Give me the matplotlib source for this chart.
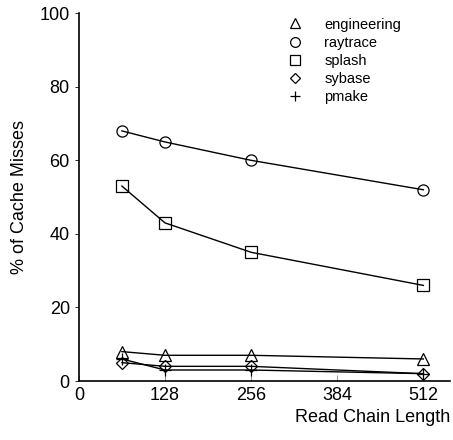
import matplotlib
matplotlib.use('Agg')
import matplotlib.pyplot as plt

plt.rcParams['font.family'] = ['Liberation Sans', 'DejaVu Sans']

chain_len = [64, 128, 256, 512]
engineering = [8, 7, 7, 6]
raytrace = [68, 65, 60, 52]
splash = [53, 43, 35, 26]
sybase = [5, 4, 4, 2]
pmake = [6, 3, 3, 2]

series = [('engineering', engineering, '^'),
          ('raytrace', raytrace, 'o'),
          ('splash', splash, 's'),
          ('sybase', sybase, 'D'),
          ('pmake', pmake, '+')]

fig = plt.figure(figsize=(4.53, 4.40), dpi=100)
ax = fig.add_axes([0.174, 0.134, 0.82, 0.836])

for name, vals, m in series:
    ms = 6 if m == 'D' else 8
    ax.plot(chain_len, vals, color='black', lw=1, marker=m, ms=ms,
            mfc='none', mec='black', mew=0.9, label=name)

# legend shows markers only
handles = [plt.Line2D([], [], ls='none', marker=m, ms=(5.5 if m == 'D' else 7),
                      mfc='none', mec='black', mew=0.9, color='black')
           for _, _, m in series]
ax.legend(handles, [s[0] for s in series], loc='upper left',
          bbox_to_anchor=(0.52, 1.012), frameon=False, fontsize=10.5,
          handletextpad=1.0, labelspacing=0.28, borderaxespad=0.2)

ax.set_xlim(0, 552)
ax.set_ylim(0, 100)
ax.set_xticks([0, 128, 256, 384, 512])
ax.set_yticks([0, 20, 40, 60, 80, 100])
ax.spines['top'].set_visible(False)
ax.spines['right'].set_visible(False)
ax.spines['left'].set_linewidth(1.2)
ax.spines['bottom'].set_linewidth(1.2)
ax.tick_params(axis='x', direction='in', length=4, width=0.6, color='gray',
               labelsize=13, pad=4)
ax.tick_params(axis='y', direction='out', length=3, width=0.6, labelsize=13)
ax.set_xlabel('Read Chain Length', fontsize=13, loc='right')
ax.set_ylabel('% of Cache Misses', fontsize=13, labelpad=8)

fig.savefig('out.png', dpi=100)
